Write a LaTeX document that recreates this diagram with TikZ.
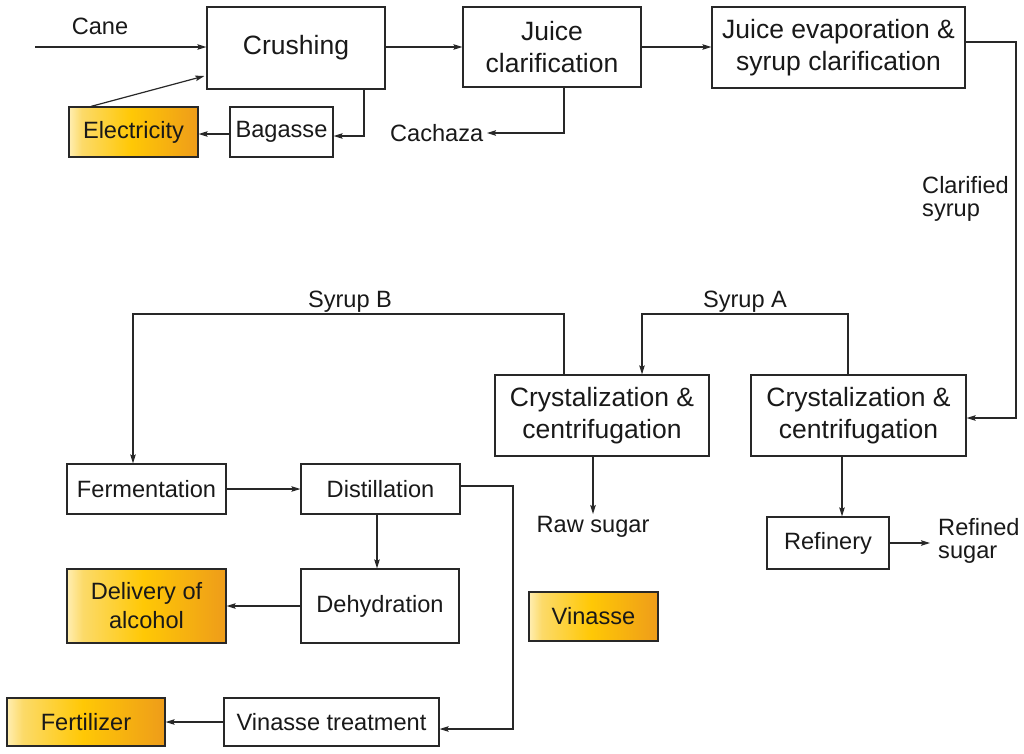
\documentclass[tikz,border=0pt]{standalone}
\usepackage{fontspec}
\setmainfont{Liberation Sans}
\usetikzlibrary{arrows.meta}
\definecolor{linec}{RGB}{40,40,40}
\definecolor{txtc}{RGB}{25,25,25}
\definecolor{gl}{RGB}{255,238,178}
\definecolor{gq}{RGB}{252,218,105}
\definecolor{gm}{RGB}{255,200,5}
\definecolor{gr}{RGB}{238,156,26}
\pgfdeclarehorizontalshading{goldsh}{100bp}{color(0bp)=(gl); color(25bp)=(gl); color(30bp)=(gq); color(49bp)=(gm); color(75bp)=(gr); color(100bp)=(gr)}
\newcommand\bigf{\fontsize{26.5}{32}\selectfont}
\newcommand\smallf{\fontsize{23.6}{29}\selectfont}
\tikzset{
  box/.style={draw=linec, line width=1.2pt, fill=white, inner sep=0pt, align=center, text=txtc},
  bigbox/.style={box, font=\bigf},
  smallbox/.style={box, font=\smallf},
  goldbox/.style={box, font=\smallf, shade, shading=goldsh},
  lbl/.style={inner sep=0pt, text=txtc, font=\smallf},
  conn/.style={draw=linec, line width=1.2pt},
  arr/.style={conn, -{Stealth[length=9pt,width=5.5pt,inset=1.5pt]}}
}
\begin{document}
\begin{tikzpicture}[x=1pt,y=-1pt]
\useasboundingbox (0,0) rectangle (1024,753);
\fill[white] (0,0) rectangle (1024,753);

% boxes
\node[bigbox, minimum width=178pt, minimum height=82pt] (crush) at (296,48) {Crushing};
\node[bigbox, minimum width=178pt, minimum height=80pt] (juice) at (552,47) {Juice\\clarification};
\node[bigbox, minimum width=253pt, minimum height=81pt] (evap) at (838.5,47.5) {Juice evaporation \&\\syrup clarification};
\node[goldbox, minimum width=129pt, minimum height=50pt] (elec) at (133.5,132) {Electricity};
\node[smallbox, minimum width=103pt, minimum height=50pt] (bag) at (281.5,132) {Bagasse};
\node[bigbox, minimum width=214pt, minimum height=81pt] (crystB) at (602,415.5) {Crystalization \&\\centrifugation};
\node[bigbox, minimum width=215pt, minimum height=81pt] (crystA) at (858.5,415.5) {Crystalization \&\\centrifugation};
\node[smallbox, minimum width=122pt, minimum height=52pt] (refin) at (828,543) {Refinery};
\node[smallbox, minimum width=159pt, minimum height=50pt] (ferm) at (146.5,489) {Fermentation};
\node[smallbox, minimum width=159pt, minimum height=50pt] (dist) at (380.5,489) {Distillation};
\node[smallbox, minimum width=158pt, minimum height=74pt] (dehyd) at (380,606) {Dehydration};
\node[goldbox, minimum width=159pt, minimum height=74pt] (deliv) at (146.5,606) {Delivery of\\alcohol};
\node[goldbox, minimum width=129pt, minimum height=49pt] (vinasse) at (593.5,616.5) {Vinasse};
\node[smallbox, minimum width=215pt, minimum height=48pt] (vt) at (331.5,722) {Vinasse treatment};
\node[goldbox, minimum width=158pt, minimum height=48pt] (fert) at (86,722) {Fertilizer};

% labels
\node[lbl, anchor=base] (cane) at (100,34) {Cane};
\node[lbl, anchor=east, inner xsep=3.5pt] (cachaza) at (487,133) {Cachaza};
\node[lbl, anchor=north west, align=left, font=\fontsize{23.6}{23}\selectfont] (clar) at (922,176) {Clarified\\syrup};
\node[lbl, anchor=base] (syrupA) at (745,307) {Syrup A};
\node[lbl, anchor=base] (syrupB) at (350,307) {Syrup B};
\node[lbl, anchor=base, inner ysep=1.5pt] (raw) at (593,532) {Raw sugar};
\node[lbl, anchor=north west, align=left, inner xsep=8pt, inner ysep=0pt, font=\fontsize{23.6}{23}\selectfont] (refined) at (930,518) {Refined\\sugar};

% helper coordinates
\coordinate (canestart) at (35,47);
\coordinate (sy) at (0,314);
\coordinate (rx) at (1016,0);
\coordinate (vx) at (513,0);
\coordinate (vtin) at ([yshift=-7pt]vt.east);
\coordinate (crin) at ([yshift=-2.5pt]crystA.east);

% connectors
\draw[arr] (canestart) -- (crush.west |- canestart);
\draw[arr] (crush.east |- juice.west) -- (juice.west);
\draw[arr] (juice.east) -- (juice.east -| evap.west);
\draw[arr] ([yshift=5.5pt]evap.east) -| (rx |- crin) -- (crin);
\draw[arr] ([xshift=68pt]crush.south) |- ([yshift=-4pt]bag.east);
\draw[arr] ([yshift=-2pt]bag.west) -- ([yshift=-2pt]elec.east);
\draw[arr] ([xshift=-42.5pt]elec.north) -- ([xshift=-2pt,yshift=-28pt]crush.west);
\draw[arr] ([xshift=12pt]juice.south) |- (cachaza.east);
\draw[arr] ([xshift=-10.5pt]crystA.north) -- ([xshift=-10.5pt]crystA.north |- sy) -| ([xshift=40pt]crystB.north);
\draw[arr] ([xshift=-38pt]crystB.north) -- ([xshift=-38pt]crystB.north |- sy) -| ([xshift=-13.5pt]ferm.north);
\draw[arr] (ferm.east) -- (dist.west);
\draw[arr] ([xshift=-3.5pt]dist.south) -- ([xshift=-3.5pt]dist.south |- dehyd.north);
\draw[arr] (dehyd.west |- deliv.east) -- (deliv.east);
\draw[arr] ([yshift=3pt]dist.east) -| (vx |- vtin) -- (vtin);
\draw[arr] (vt.west) -- (fert.east);
\draw[arr] (crystB.south -| raw.north) -- (raw.north);
\draw[arr] ([xshift=-16.5pt]crystA.south) -- ([xshift=-16.5pt]crystA.south |- refin.north);
\draw[arr] (refin.east) -- (refin.east -| refined.west);
\end{tikzpicture}
\end{document}
